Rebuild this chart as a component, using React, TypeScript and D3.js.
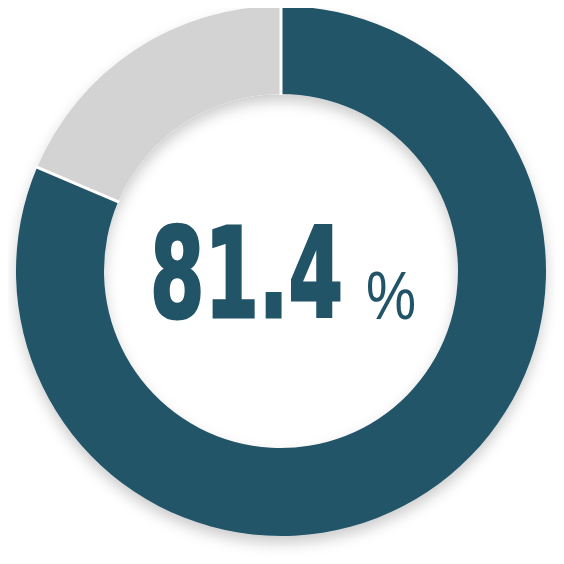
import { useEffect, useRef } from 'react';
import * as d3 from 'd3';

// share of the total, in percent
const segmentNames = ['achieved', 'remaining'];
const segmentValues = [81.4, 18.6];
const segmentColors = ['#225468', '#d3d3d3'];
const centerLabel = '81.4';
const unitLabel = '%';

const App = () => {
  const svgRef = useRef<SVGSVGElement | null>(null);

  useEffect(() => {
    if (!svgRef.current) return;
    const width = 564;
    const height = 564;
    const cx = 281;
    const cy = 271;
    const outer = 265;
    const inner = 177;

    const svg = d3.select(svgRef.current);
    svg.selectAll('*').remove();
    svg.attr('width', width).attr('height', height);

    const defs = svg.append('defs');
    const filter = defs.append('filter')
      .attr('id', 'shadow')
      .attr('x', '-20%').attr('y', '-20%')
      .attr('width', '140%').attr('height', '140%');
    filter.append('feDropShadow')
      .attr('dx', 0).attr('dy', 7)
      .attr('stdDeviation', 7)
      .attr('flood-color', '#000')
      .attr('flood-opacity', 0.2);

    const pie = d3.pie<number>().sort(null).value((d) => d);
    const arcs = pie(segmentValues);
    const arc = d3.arc<d3.PieArcDatum<number>>()
      .innerRadius(inner)
      .outerRadius(outer);

    const g = svg.append('g')
      .attr('transform', `translate(${cx},${cy})`);

    const ring = g.append('g').attr('filter', 'url(#shadow)');
    ring.selectAll('path')
      .data(arcs)
      .enter()
      .append('path')
      .attr('class', (_, i) => segmentNames[i])
      .attr('d', arc)
      .attr('fill', (_, i) => segmentColors[i]);

    // white separators between the slices
    g.selectAll('line.sep')
      .data(arcs)
      .enter()
      .append('line')
      .attr('class', 'sep')
      .attr('x1', (d) => Math.sin(d.startAngle) * (inner - 1))
      .attr('y1', (d) => -Math.cos(d.startAngle) * (inner - 1))
      .attr('x2', (d) => Math.sin(d.startAngle) * (outer + 1))
      .attr('y2', (d) => -Math.cos(d.startAngle) * (outer + 1))
      .attr('stroke', '#fff')
      .attr('stroke-width', 3);

    const label = svg.append('g');
    label.append('text')
      .attr('x', 150)
      .attr('y', 317)
      .attr('font-family', '"DejaVu Sans Condensed", "DejaVu Sans", sans-serif')
      .attr('font-stretch', 'condensed')
      .attr('font-weight', 'bold')
      .attr('font-size', 124)
      .attr('fill', segmentColors[0])
      .attr('stroke', segmentColors[0])
      .attr('stroke-width', 3)
      .attr('stroke-linejoin', 'miter')
      .attr('textLength', 193)
      .attr('lengthAdjust', 'spacingAndGlyphs')
      .text(centerLabel);

    label.append('text')
      .attr('x', 366)
      .attr('y', 319)
      .attr('font-family', '"Liberation Sans Narrow", "Liberation Sans", sans-serif')
      .attr('font-size', 68)
      .attr('fill', segmentColors[0])
      .attr('textLength', 50)
      .attr('lengthAdjust', 'spacingAndGlyphs')
      .text(unitLabel);
  }, []);

  return (
    <div style={{ margin: -8, width: 564, height: 564, background: '#fff' }}>
      <svg ref={svgRef} style={{ display: 'block' }}></svg>
    </div>
  );
};

export default App;
